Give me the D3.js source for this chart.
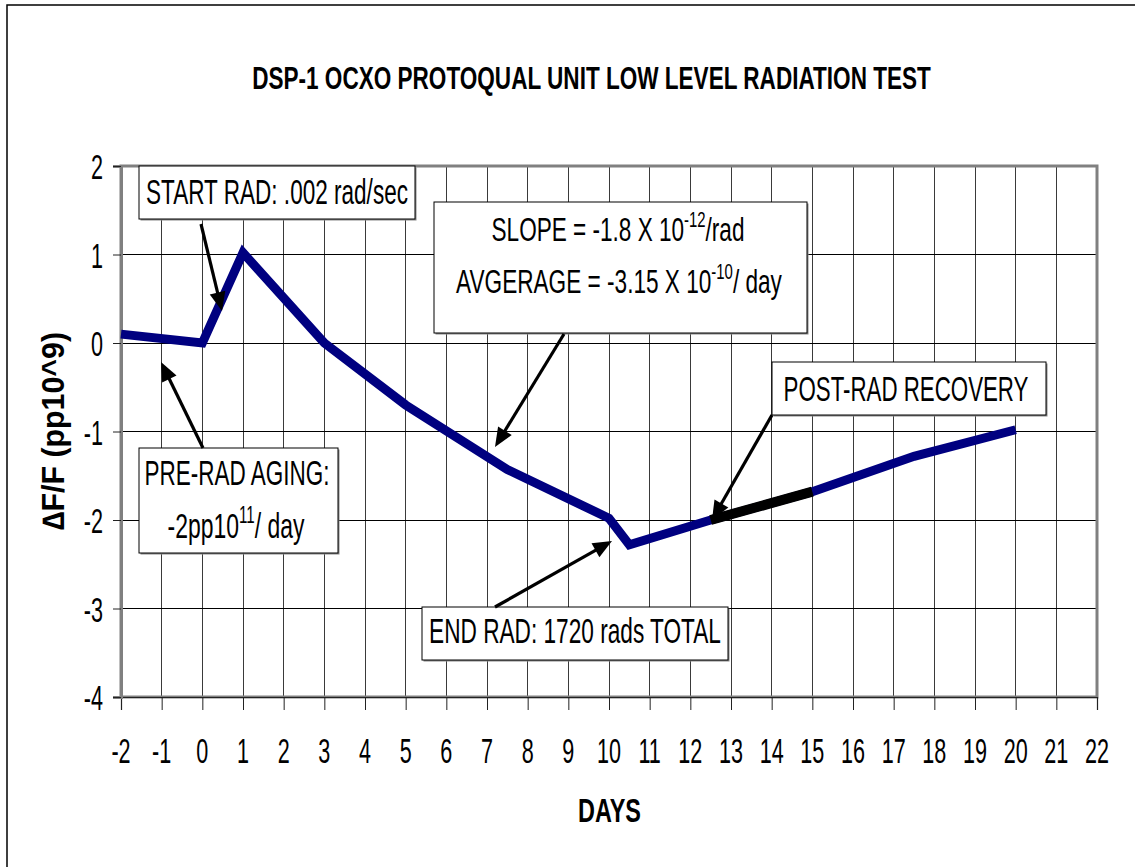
<!DOCTYPE html>
<html>
<head>
<meta charset="utf-8">
<script src="https://cdn.jsdelivr.net/npm/d3@7"></script>
<style>
  html, body { margin: 0; padding: 0; background: #fff; }
  svg { display: block; }
</style>
</head>
<body>
<svg id="chart" width="1135" height="867"></svg>
<script>
// ---------- data ----------
const days = [-2, 0, 1, 3, 5, 7.5, 10, 10.5, 12.5, 15, 17.5, 20];
const dff  = [0.1, 0, 1.02, 0, -0.7, -1.43, -1.98, -2.28, -2.0, -1.68, -1.28, -0.98];
const recoveryRange = [12.5, 15];           // segment highlighted in black
const xTickValues = [-2,-1,0,1,2,3,4,5,6,7,8,9,10,11,12,13,14,15,16,17,18,19,20,21,22];
const yTickValues = [-4,-3,-2,-1,0,1,2];
const titleText = "DSP-1 OCXO PROTOQUAL UNIT LOW LEVEL RADIATION TEST";
const xTitle = "DAYS";
const yTitle = "\u2206F/F (pp10^9)";

// ---------- setup ----------
const FONT = "'Liberation Sans', Arial, sans-serif";
const svg = d3.select("#chart");
const plot = {left: 121, right: 1097, top: 166, bottom: 697};

const x = d3.scaleLinear().domain([-2, 22]).range([plot.left, plot.right]);
const y = d3.scaleLinear().domain([-4, 2]).range([plot.bottom, plot.top]);

// outer frame
svg.append("rect").attr("x", 7).attr("y", 5).attr("width", 1140).attr("height", 880)
  .attr("fill", "#fff").attr("stroke", "#000").attr("stroke-width", 1.5);

// text helper: parts = strings or {sup: "..."}
function label(parent, px, py, parts, opt) {
  const size = opt.size;
  const g = parent.append("g")
    .attr("transform", `translate(${px},${py})` + (opt.rotate ? ` rotate(${opt.rotate})` : ""));
  const t = g.append("text")
    .attr("font-family", FONT)
    .attr("font-size", size)
    .attr("font-weight", opt.bold ? "bold" : "normal")
    .attr("text-anchor", opt.anchor || "middle")
    .attr("fill", "#000");
  let raised = false;
  parts.forEach(p => {
    if (typeof p === "string") {
      const ts = t.append("tspan").text(p);
      if (raised) { ts.attr("dy", size * 0.42); raised = false; }
    } else {
      t.append("tspan").attr("font-size", size * 0.66).attr("dy", -size * 0.42).text(p.sup);
      raised = true;
    }
  });
  let sx = opt.sx || 1;
  if (opt.width) {
    const len = t.node().getComputedTextLength();
    sx = opt.width / len;
  }
  t.attr("transform", `scale(${sx},1)`);
  return t;
}

// ---------- grid ----------
const grid = svg.append("g");
grid.selectAll("line.v").data(xTickValues).join("line")
  .attr("x1", d => x(d)).attr("x2", d => x(d))
  .attr("y1", plot.top).attr("y2", plot.bottom)
  .attr("stroke", "#3a3a3a").attr("stroke-width", 1).attr("shape-rendering", "crispEdges");
grid.selectAll("line.h").data(yTickValues).join("line")
  .attr("x1", plot.left).attr("x2", plot.right)
  .attr("y1", d => y(d)).attr("y2", d => y(d))
  .attr("stroke", "#000").attr("stroke-width", 1).attr("shape-rendering", "crispEdges");

// plot frame (grey)
svg.append("rect")
  .attr("x", plot.left).attr("y", plot.top)
  .attr("width", plot.right - plot.left).attr("height", plot.bottom - plot.top)
  .attr("fill", "none").attr("stroke", "#808080").attr("stroke-width", 3);

// ---------- axes ----------
const xAxis = svg.append("g").attr("transform", `translate(0,${plot.bottom})`)
  .call(d3.axisBottom(x).tickValues(xTickValues).tickSize(13).tickFormat(""));
xAxis.select(".domain").attr("stroke", "#222").attr("stroke-width", 1.2);
xAxis.selectAll(".tick line").attr("stroke", "#222").attr("stroke-width", 1);

const yAxis = svg.append("g").attr("transform", `translate(${plot.left},0)`)
  .call(d3.axisLeft(y).tickValues(yTickValues).tickSize(8).tickFormat(""));
yAxis.select(".domain").attr("stroke", "#808080").attr("stroke-width", 3);
yAxis.selectAll(".tick line").attr("stroke", "#222").attr("stroke-width", 1);

// tick labels
xTickValues.forEach(v => label(svg, x(v), 763, [String(v)], {size: 36, sx: 0.6}));
yTickValues.forEach(v => label(svg, 103, y(v) + 13, [String(v)], {size: 36, sx: 0.6, anchor: "end"}));

// ---------- series ----------
const pts = days.map((d, i) => [d, dff[i]]);
const line = d3.line().x(d => x(d[0])).y(d => y(d[1]));
svg.append("path").datum(pts).attr("d", line)
  .attr("fill", "none").attr("stroke", "#000080").attr("stroke-width", 9)
  .attr("stroke-linejoin", "miter").attr("stroke-linecap", "butt");
const rec = pts.filter(p => p[0] >= recoveryRange[0] && p[0] <= recoveryRange[1]);
svg.append("path").datum(rec).attr("d", line)
  .attr("fill", "none").attr("stroke", "#000").attr("stroke-width", 10)
  .attr("stroke-linecap", "butt");

// ---------- annotations ----------
const ann = svg.append("g");
function box(x0, y0, x1, y1) {
  ann.append("rect").attr("x", x0 + 1.5).attr("y", y0 + 1.5).attr("width", x1 - x0).attr("height", y1 - y0)
    .attr("fill", "#888");
  ann.append("rect").attr("x", x0).attr("y", y0).attr("width", x1 - x0).attr("height", y1 - y0)
    .attr("fill", "#fff").attr("stroke", "#000").attr("stroke-width", 1);
}
function arrow(x0, y0, x1, y1) {
  const L = 19, hw = 8;
  const dx = x1 - x0, dy = y1 - y0, len = Math.hypot(dx, dy);
  const ux = dx / len, uy = dy / len;
  const bx = x1 - ux * L, by = y1 - uy * L;
  ann.append("line").attr("x1", x0).attr("y1", y0).attr("x2", bx + ux * 2).attr("y2", by + uy * 2)
    .attr("stroke", "#000").attr("stroke-width", 3.2);
  ann.append("path")
    .attr("d", `M${x1},${y1} L${bx - uy * hw},${by + ux * hw} L${bx + uy * hw},${by - ux * hw} Z`)
    .attr("fill", "#000");
}

// START RAD
box(139, 166, 415, 219);
label(ann, 277, 204, ["START RAD: .002 rad/sec"], {size: 35, width: 262});
arrow(201, 224, 222, 311);

// SLOPE / AVERAGE
box(434, 202, 807, 333);
label(ann, 618, 241, ["SLOPE = -1.8 X 10", {sup: "-12"}, "/rad"], {size: 34, width: 253});
label(ann, 619, 293, ["AVGERAGE = -3.15 X 10", {sup: "-10"}, "/ day"], {size: 34, width: 326});
arrow(564, 334, 495, 447);

// PRE-RAD AGING
box(139, 448, 338, 553);
label(ann, 237, 485, ["PRE-RAD AGING:"], {size: 35, width: 185});
label(ann, 236, 538, ["-2pp10", {sup: "11"}, "/ day"], {size: 35, width: 137});
arrow(203, 448, 161, 362);

// END RAD
box(422, 607, 728, 660);
label(ann, 575, 643, ["END RAD: 1720 rads TOTAL"], {size: 35, width: 292});
arrow(495, 607, 612, 541);

// POST-RAD RECOVERY
box(772, 362, 1046, 415);
label(ann, 906, 401, ["POST-RAD RECOVERY"], {size: 35, width: 245});
arrow(772, 415, 712, 520);

// ---------- titles ----------
label(svg, 591.5, 89, [titleText], {size: 32, bold: true, width: 679});
label(svg, 609.5, 822, [xTitle], {size: 33, bold: true, width: 63});
label(svg, 64, 431, [yTitle], {size: 31, bold: true, width: 198, rotate: -90});
</script>
</body>
</html>
